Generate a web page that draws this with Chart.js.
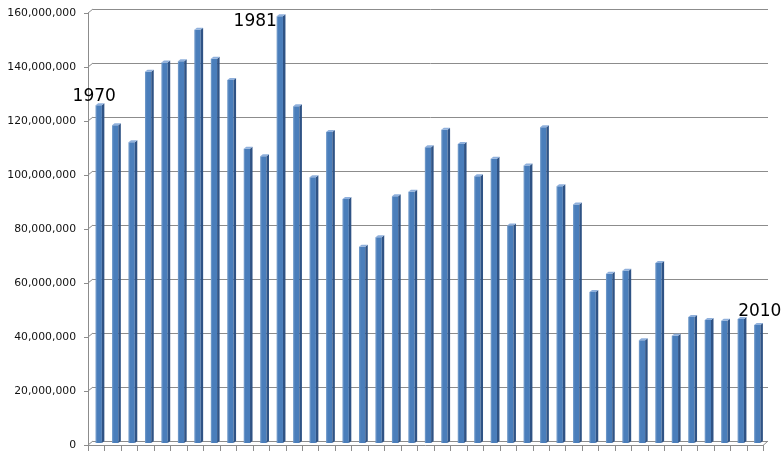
<!DOCTYPE html>
<html><head><meta charset="utf-8">
<script src="https://cdn.jsdelivr.net/npm/chart.js@4.4.1/dist/chart.umd.min.js"></script>
<style>html,body{margin:0;padding:0;background:#fff;}#wrap{width:784px;height:456px;position:relative;}</style>
</head><body><div id="wrap"><canvas id="c"></canvas></div>
<script>
const years = ['1970','1971','1972','1973','1974','1975','1976','1977','1978','1979',
  '1980','1981','1982','1983','1984','1985','1986','1987','1988','1989',
  '1990','1991','1992','1993','1994','1995','1996','1997','1998','1999',
  '2000','2001','2002','2003','2004','2005','2006','2007','2008','2009','2010'];
const values = [125100000,117700000,111400000,137500000,140900000,141400000,153100000,142300000,134400000,109000000,
  106200000,158100000,124700000,98400000,115200000,90400000,72700000,76200000,91400000,93100000,
  109500000,116000000,110700000,98800000,105300000,80600000,102800000,116900000,95100000,88300000,
  55900000,62700000,63800000,38100000,66700000,39700000,46700000,45600000,45300000,45900000,43700000];
const yTickValues = [0,20000000,40000000,60000000,80000000,100000000,120000000,140000000,160000000];
const calloutYears = ['1970','1981','2010'];

const DX = 2.5, DY = 2; // half depth of the oblique 3D projection
const calloutStyle = {
  '1970': {align:'center', dx:-4.5, dy:-4},
  '1981': {align:'right', dx:-3, dy:10},
  '2010': {align:'center', dx:2.5, dy:-9}
};

const wall3d = {
  id:'wall3d',
  beforeDatasetsDraw(chart){
    const {ctx, chartArea:a, scales:{y}} = chart;
    ctx.save();
    ctx.lineWidth = 1;
    ctx.strokeStyle = '#8c8c8c';
    yTickValues.forEach(v=>{
      const py = y.getPixelForValue(v);
      ctx.beginPath();
      ctx.moveTo(a.left+DX, Math.round(py-DY)+0.5);
      ctx.lineTo(a.right+DX, Math.round(py-DY)+0.5);
      ctx.stroke();
      ctx.beginPath();
      ctx.moveTo(a.left-DX, py+DY);
      ctx.lineTo(a.left+DX, py-DY);
      ctx.stroke();
      ctx.beginPath();
      ctx.moveTo(a.left-DX-4, Math.round(py+DY)+0.5);
      ctx.lineTo(a.left-DX, Math.round(py+DY)+0.5);
      ctx.stroke();
    });
    const yTop = y.getPixelForValue(yTickValues[yTickValues.length-1]);
    const y0 = y.getPixelForValue(0);
    ctx.beginPath();
    ctx.moveTo(Math.round(a.left-DX)+0.5, yTop+DY);
    ctx.lineTo(Math.round(a.left-DX)+0.5, y0+DY+4);
    ctx.stroke();
    ctx.beginPath();
    ctx.moveTo(a.left-DX, Math.round(y0+DY)+0.5);
    ctx.lineTo(a.right-DX, Math.round(y0+DY)+0.5);
    ctx.lineTo(a.right+DX, y0-DY);
    ctx.stroke();
    const n = years.length, cw = (a.right-a.left)/n;
    for(let i=0;i<=n;i++){
      const px = Math.round(a.left-DX+i*cw)+0.5;
      ctx.beginPath();
      ctx.moveTo(px, y0+DY);
      ctx.lineTo(px, y0+DY+6);
      ctx.stroke();
    }
    ctx.restore();
  },
  afterDatasetsDraw(chart){
    const {ctx} = chart;
    const meta = chart.getDatasetMeta(0);
    ctx.save();
    meta.data.forEach(el=>{
      const {x, y, base, width} = el.getProps(['x','y','base','width'], true);
      const l = x-width/2, r = x+width/2;
      ctx.fillStyle = '#2f5385';
      ctx.beginPath();
      ctx.moveTo(r, y); ctx.lineTo(r+DX, y-DY); ctx.lineTo(r+DX, base-DY); ctx.lineTo(r, base);
      ctx.closePath(); ctx.fill();
      ctx.fillStyle = '#8fb0dc';
      ctx.beginPath();
      ctx.moveTo(l, y); ctx.lineTo(l+DX, y-DY); ctx.lineTo(r+DX, y-DY); ctx.lineTo(r, y);
      ctx.closePath(); ctx.fill();
      ctx.fillStyle = 'rgba(255,255,255,0.18)';
      ctx.fillRect(l, y, 1.2, base-y);
    });
    ctx.restore();
  },
  afterDraw(chart){
    const {ctx} = chart;
    const meta = chart.getDatasetMeta(0);
    ctx.save();
    ctx.font = '17px "DejaVu Sans", Verdana, sans-serif';
    ctx.fillStyle = '#000';
    ctx.textBaseline = 'alphabetic';
    calloutYears.forEach(yr=>{
      const i = years.indexOf(yr);
      const el = meta.data[i];
      const s = calloutStyle[yr];
      ctx.textAlign = s.align;
      ctx.fillText(yr, el.x+s.dx, el.y+s.dy);
    });
    ctx.restore();
  }
};

new Chart(document.getElementById('c'), {
  type:'bar',
  data:{labels:years, datasets:[{data:values, backgroundColor:'#4a7ebb', borderWidth:0,
    categoryPercentage:1, barPercentage:0.38}]},
  options:{
    responsive:true, maintainAspectRatio:false, animation:false,
    layout:{padding:{top:11, right:18.5, bottom:13, left:0}},
    plugins:{legend:{display:false}, tooltip:{enabled:false}},
    scales:{
      x:{display:false},
      y:{min:0, max:160000000,
        afterFit(s){ s.width = 90.5; s.paddingTop = 0; s.paddingBottom = 0; },
        grid:{display:false, drawTicks:false}, border:{display:false},
        afterBuildTicks(s){ s.ticks = yTickValues.map(v=>({value:v})); },
        ticks:{padding:14.5, labelOffset:2.5, color:'#111',
          font:{family:'"DejaVu Sans", Verdana, sans-serif', size:10.8},
          callback:v=>v.toLocaleString('en-US')}
      }
    }
  },
  plugins:[wall3d]
});
</script></body></html>
